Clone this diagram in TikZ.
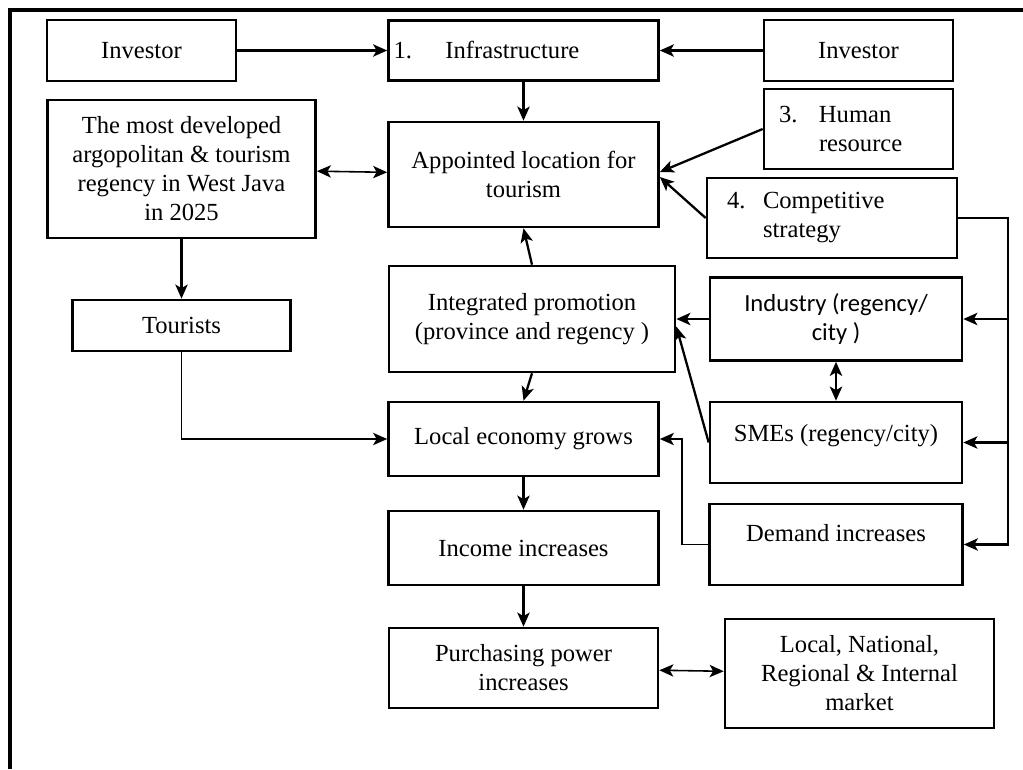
\documentclass[tikz,border=0pt]{standalone}
\usepackage{fontspec}
\setmainfont{Liberation Serif}
\newfontfamily\calib{Carlito}
\usetikzlibrary{positioning,arrows.meta}

\begin{document}
\begin{tikzpicture}[
	on grid,
	box/.style={draw, line width=1.5pt, align=center, inner sep=2pt, font=\fontsize{14}{16.5}\selectfont},
	tip/.style={-{Stealth[length=8pt,width=7pt,inset=2pt]}},
	arr/.style={tip, line width=1.3pt},
	thinarr/.style={tip, line width=1pt},
	dbl/.style={{Stealth[length=8pt,width=7pt,inset=2pt]}-{Stealth[length=8pt,width=7pt,inset=2pt]}, line width=0.9pt}
	]
	\useasboundingbox (0,0) rectangle (20.46,-15.38);
	\draw[line width=1.9pt] (0.2,-15.38) -- (0.2,-0.2) -- (20.46,-0.2);
	
	\node[box, minimum width=3.78cm, minimum height=1.22cm] (inv1) at (2.83,-1.01) {Investor};
	\node[box, right=7.64cm of inv1, minimum height=1.2cm, text width=5.2cm, align=left, inner xsep=0.1cm] (infra) {\makebox[1.04cm][l]{1.}Infrastructure};
	\node[box, right=6.7cm of infra, minimum width=3.78cm, minimum height=1.22cm] (inv2) {Investor};
	\node[box, below=2.48cm of infra, minimum width=5.4cm, minimum height=2.1cm] (loc) {Appointed location for\\tourism};
	\node[box, below right=2.37cm and 0.8cm of inv1, minimum width=5.36cm, minimum height=2.76cm] (vision) {The most developed\\argopolitan \& tourism\\regency in West Java\\in 2025};
	\node[box, below=3.13cm of vision, minimum width=4.36cm, minimum height=1.02cm] (tour) {Tourists};
	\node[box, below=1.57cm of inv2, minimum height=1.6cm, text width=3.18cm, align=left, inner xsep=0.3cm] (hr) {\makebox[0.8cm][l]{3.}Human\\\hspace*{0.8cm}resource};
	\node[box, below left=1.78cm and 0.53cm of hr, minimum height=1.6cm, text width=4.2cm, align=left, inner xsep=0.4cm] (comp) {\makebox[0.72cm][l]{4.}Competitive\\\hspace*{0.72cm}strategy};
	\node[box, below right=2.89cm and 0.17cm of loc, minimum width=5.72cm, minimum height=2.12cm] (promo) {Integrated promotion\\(province and regency )};
	\node[box, right=6.08cm of promo, minimum width=5.04cm, minimum height=1.66cm, font=\calib\fontsize{14}{17}\selectfont] (ind) {Industry (regency/\\city )};
	\node[box, below=2.47cm of ind, minimum width=5.04cm, minimum height=1.62cm, text depth=0.4cm] (sme) {SMEs (regency/city)};
	\node[box, below=2.04cm of sme, minimum width=5.06cm, minimum height=1.62cm, text depth=0.45cm] (dem) {Demand increases};
	\node[box, below left=2.4cm and 0.17cm of promo, minimum width=5.4cm, minimum height=1.48cm] (econ) {Local economy grows};
	\node[box, below=2.18cm of econ, minimum width=5.4cm, minimum height=1.48cm] (inc) {Income increases};
	\node[box, below=2.4cm of inc, minimum width=5.38cm, minimum height=1.6cm] (buy) {Purchasing power\\increases};
	\node[box, below right=0.11cm and 6.72cm of buy, minimum width=5.38cm, minimum height=2.18cm] (mkt) {Local, National,\\Regional \& Internal\\market};
	
	\draw[arr] (inv1) -- (infra);
	\draw[arr] (inv2) -- (infra);
	\draw[arr] (infra) -- (loc);
	\draw[dbl] (vision) -- (loc);
	\draw[arr] (vision) -- (tour);
	\draw[arr] (hr.west) -- ([yshift=0.05cm]loc.east);
	\draw[arr] (comp.west) -- ([yshift=-0.05cm]loc.east);
	\draw[arr] (promo.north) -- (loc.south);
	\draw[arr] (promo.south) -- (econ.north);
	\draw[arr] (ind) -- (promo);
	\draw[arr] (sme.west) -- ([yshift=-0.15cm]promo.east);
	\draw[{Stealth[length=8pt,width=7pt,inset=2pt]}-{Stealth[length=8pt,width=7pt,inset=2pt]}, line width=1.4pt] (ind) -- (sme);
	\draw[thinarr] (tour.south) |- (econ.west);
	\draw[thinarr] (dem.west) -- ++(-0.52,0) |- (econ.east);
	\draw[arr] (comp.east) -- ++(1,0) coordinate (cs) |- (dem.east);
	\draw[arr] (cs) |- (ind.east);
	\draw[arr] (cs) |- (sme.east);
	\draw[arr] (econ) -- (inc);
	\draw[arr] (inc) -- (buy);
	\draw[dbl] (buy) -- (mkt);
\end{tikzpicture}
\end{document}
